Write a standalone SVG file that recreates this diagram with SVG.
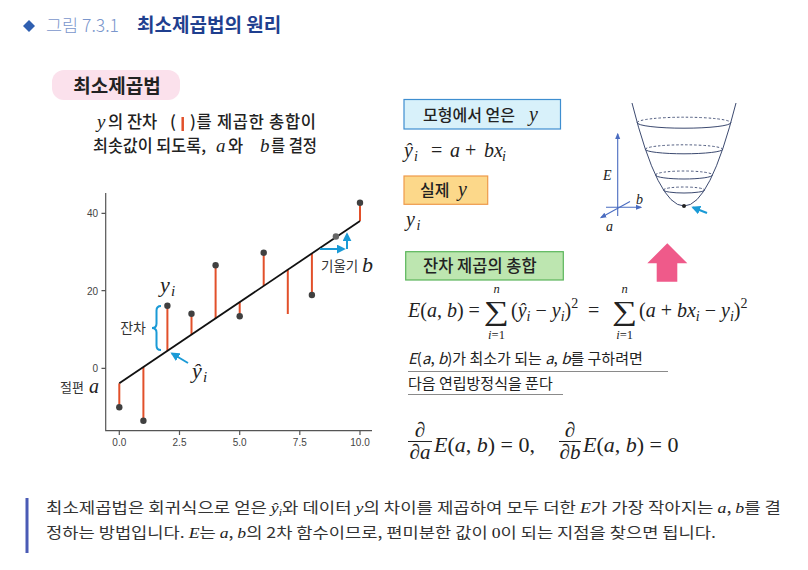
<svg xmlns="http://www.w3.org/2000/svg" width="808" height="570" viewBox="0 0 808 570">
<defs>
<style>
.kr{font-family:"Noto Sans CJK KR","Noto Sans",sans-serif;fill:#222}
.md{font-weight:500}
.m{font-family:"Liberation Serif","DejaVu Serif",serif;fill:#222}
.i{font-style:italic}
.tick{font-family:"Liberation Sans","DejaVu Sans",sans-serif;font-size:10px;fill:#444}
.axis{stroke:#555;stroke-width:1.2;fill:none}
.res{stroke:#e2502a;stroke-width:2}
.dot{fill:#404040}
.blue{stroke:#1a9ad6;stroke-width:2;fill:none}
.ax3{stroke:#4a6cc0;stroke-width:1.1;fill:none}
.bowl{stroke:#3c4a70;stroke-width:1;fill:none}
.dash{stroke:#3c4a70;stroke-width:0.9;fill:none;stroke-dasharray:2.5 2}
.ul{stroke:#8a8a8a;stroke-width:1}
</style>
<marker id="ab" viewBox="0 0 10 10" refX="8" refY="5" markerWidth="4.5" markerHeight="4.5" orient="auto"><path d="M0,0 L10,5 L0,10 z" fill="#1a9ad6"/></marker>
<marker id="ax" viewBox="0 0 10 10" refX="8" refY="5" markerWidth="6" markerHeight="6" orient="auto"><path d="M0,1 L10,5 L0,9 z" fill="#4a6cc0"/></marker>
</defs>
<rect width="808" height="570" fill="#fff"/>

<g id="title">
<path d="M29,20 L35,26 L29,32 L23,26 z" fill="#2f5fb0"/>
<text class="kr" x="46" y="32" font-size="17.5" style="fill:#7a96cc;font-weight:300">그림 7.3.1</text>
<text class="kr" x="137" y="32" font-size="19" font-weight="700" style="fill:#1f3f8f">최소제곱법의 원리</text>
</g>

<g id="pill">
<rect x="52" y="70" width="128" height="30" rx="12" fill="#fbe1ec"/>
<text class="kr" x="117" y="93" font-size="19" font-weight="700" text-anchor="middle">최소제곱법</text>
</g>

<g id="caption">
<text class="m i" x="97" y="128" font-size="19">y</text>
<text class="kr md" x="108" y="128" font-size="16.5">의 잔차</text>
<text class="kr md" x="170" y="128" font-size="16.5">(</text>
<line x1="182.7" y1="117" x2="182.7" y2="131" stroke="#e2502a" stroke-width="2.5"/>
<text class="kr md" x="190" y="128" font-size="16.5" textLength="126" lengthAdjust="spacing">)를 제곱한 총합이</text>
<text class="kr md" x="93" y="152" font-size="16.5" textLength="113" lengthAdjust="spacingAndGlyphs">최솟값이 되도록,</text>
<text class="m i" x="216" y="152" font-size="19">a</text>
<text class="kr md" x="228" y="152" font-size="16.5">와</text>
<text class="m i" x="260" y="152" font-size="19">b</text>
<text class="kr md" x="271" y="152" font-size="16.5" textLength="46" lengthAdjust="spacingAndGlyphs">를 결정</text>
</g>

<g id="chart">
<path class="axis" d="M105.7,193 V430.7 H372"/>
<path class="axis" d="M101.5,213.3 H105.7 M101.5,290.7 H105.7 M101.5,368.3 H105.7 M119.3,430.7 V435 M179.5,430.7 V435 M239.7,430.7 V435 M299.8,430.7 V435 M360,430.7 V435"/>
<text class="tick" x="98" y="217" text-anchor="end">40</text>
<text class="tick" x="98" y="294.5" text-anchor="end">20</text>
<text class="tick" x="98" y="371.5" text-anchor="end">0</text>
<text class="tick" x="119.3" y="446" text-anchor="middle">0.0</text>
<text class="tick" x="179.5" y="446" text-anchor="middle">2.5</text>
<text class="tick" x="239.7" y="446" text-anchor="middle">5.0</text>
<text class="tick" x="299.8" y="446" text-anchor="middle">7.5</text>
<text class="tick" x="360" y="446" text-anchor="middle">10.0</text>
<g id="residuals">
<line class="res" x1="119.3" y1="383.3" x2="119.3" y2="407.3"/>
<line class="res" x1="143.4" y1="367.1" x2="143.4" y2="420.7"/>
<line class="res" x1="167.4" y1="350.8" x2="167.4" y2="305.7"/>
<line class="res" x1="191.5" y1="334.6" x2="191.5" y2="313.7"/>
<line class="res" x1="215.6" y1="318.4" x2="215.6" y2="265.3"/>
<line class="res" x1="239.7" y1="302.2" x2="239.7" y2="316.3"/>
<line class="res" x1="263.7" y1="285.9" x2="263.7" y2="252.7"/>
<line class="res" x1="287.8" y1="269.7" x2="287.8" y2="314"/>
<line class="res" x1="311.9" y1="253.5" x2="311.9" y2="295"/>
<line class="res" x1="360" y1="221" x2="360" y2="202.7"/>
</g>
<line x1="119.3" y1="383.3" x2="360" y2="221" stroke="#111" stroke-width="1.8"/>
<g id="points">
<circle class="dot" cx="119.3" cy="407.3" r="3.2"/>
<circle class="dot" cx="143.4" cy="420.7" r="3.2"/>
<circle class="dot" cx="167.4" cy="305.7" r="3.2"/>
<circle class="dot" cx="191.5" cy="313.7" r="3.2"/>
<circle class="dot" cx="215.6" cy="265.3" r="3.2"/>
<circle class="dot" cx="239.7" cy="316.3" r="3.2"/>
<circle class="dot" cx="263.7" cy="252.7" r="3.2"/>
<circle class="dot" cx="311.9" cy="295" r="3.2"/>
<circle cx="335.9" cy="236.5" r="3.2" fill="#666"/>
<circle class="dot" cx="360" cy="202.7" r="3.2"/>
</g>
<path class="blue" stroke-width="1.4" d="M161,306 q-4.5,0 -4.5,4.5 v13 q0,4.5 -4.5,4.5 q4.5,0 4.5,4.5 v13 q0,4.5 4.5,4.5"/>
<text class="kr" x="146" y="333" font-size="14" text-anchor="end" style="fill:#333">잔차</text>
<text class="m i" x="160" y="292" font-size="22">y</text>
<text class="m i" x="171" y="296" font-size="15">i</text>
<text class="m i" x="192" y="378" font-size="22">ŷ</text>
<text class="m i" x="203" y="382" font-size="15">i</text>
<text class="kr" x="60" y="392" font-size="13" style="fill:#333">절편</text>
<text class="m i" x="89" y="393" font-size="20">a</text>
<text class="kr" x="321" y="270.5" font-size="13.5" style="fill:#333">기울기</text>
<text class="m i" x="362" y="272" font-size="22">b</text>
</g>

<g id="box-model">
<rect x="404" y="99.5" width="156.5" height="29.5" fill="#d8f1fa" stroke="#3e8ed0" stroke-width="1.2"/>
<text class="kr md" x="423" y="120.5" font-size="16">모형에서 얻은</text>
<text class="m i" x="529" y="120.5" font-size="20">y</text>
</g>
<g id="formula-model">
<text class="m" font-size="20" y="157"><tspan x="404" class="i">ŷ</tspan><tspan x="414" y="161" font-size="14" class="i">i</tspan><tspan x="431" y="157">=</tspan><tspan x="450" class="i">a</tspan><tspan x="465">+</tspan><tspan x="484" class="i">bx</tspan><tspan x="502" y="161" font-size="14" class="i">i</tspan></text>
</g>

<g id="box-actual">
<rect x="404" y="176" width="83.7" height="28.3" fill="#fcd88a" stroke="#ee9a4a" stroke-width="1.2"/>
<text class="kr md" x="420" y="195.5" font-size="16">실제</text>
<text class="m i" x="458" y="195.5" font-size="20">y</text>
</g>
<g id="formula-actual">
<text class="m i" x="406" y="226" font-size="20">y</text>
<text class="m i" x="416.5" y="230" font-size="14">i</text>
</g>

<g id="box-sum">
<rect x="405.7" y="251.7" width="157.6" height="28.3" fill="#bde6b0" stroke="#5ab55a" stroke-width="1.2"/>
<text class="kr md" x="423" y="271.5" font-size="16.5">잔차 제곱의 총합</text>
</g>
<g id="formula-sum">
<text class="m" font-size="20" y="317"><tspan x="408" class="i">E</tspan>(<tspan class="i">a</tspan>, <tspan class="i">b</tspan>) =</text>
<text class="m" font-size="27" text-anchor="middle" transform="translate(496.5,320) scale(1.3,1)">∑</text>
<text class="m i" x="496.5" y="293" font-size="12.5" text-anchor="middle">n</text>
<text class="m" x="496.5" y="339" font-size="12.5" text-anchor="middle"><tspan class="i">i</tspan>=1</text>
<text class="m" font-size="20" y="317"><tspan x="511">(</tspan><tspan class="i">ŷ</tspan><tspan class="i" font-size="14" dy="4">i</tspan><tspan dy="-4"> − </tspan><tspan class="i">y</tspan><tspan class="i" font-size="14" dy="4">i</tspan><tspan dy="-4">)</tspan><tspan font-size="14" dy="-9">2</tspan><tspan x="588" y="317">=</tspan></text>
<text class="m" font-size="27" text-anchor="middle" transform="translate(624.7,320) scale(1.3,1)">∑</text>
<text class="m i" x="624.7" y="293" font-size="12.5" text-anchor="middle">n</text>
<text class="m" x="624.7" y="339" font-size="12.5" text-anchor="middle"><tspan class="i">i</tspan>=1</text>
<text class="m" font-size="20" y="317"><tspan x="639">(</tspan><tspan class="i">a</tspan> + <tspan class="i">bx</tspan><tspan class="i" font-size="14" dy="4">i</tspan><tspan dy="-4"> − </tspan><tspan class="i">y</tspan><tspan class="i" font-size="14" dy="4">i</tspan><tspan dy="-4">)</tspan><tspan font-size="14" dy="-9">2</tspan></text>
</g>

<g id="condition">
<text class="kr" x="408" y="364" font-size="15"><tspan font-style="italic">E</tspan>(<tspan font-style="italic">a</tspan>, <tspan font-style="italic">b</tspan>)가 최소가 되는 <tspan font-style="italic">a</tspan>, <tspan font-style="italic">b</tspan>를 구하려면</text>
<line class="ul" x1="408" y1="371.5" x2="668" y2="371.5"/>
<text class="kr" x="408" y="389" font-size="15">다음 연립방정식을 푼다</text>
<line class="ul" x1="408" y1="394.5" x2="563" y2="394.5"/>
</g>

<g id="formula-partial">
<text class="m" x="420" y="437" font-size="21" text-anchor="middle">∂</text>
<line x1="408" y1="441.5" x2="432" y2="441.5" stroke="#222" stroke-width="1"/>
<text class="m" x="420" y="459" font-size="21" text-anchor="middle">∂<tspan class="i">a</tspan></text>
<text class="m" font-size="22" y="452"><tspan x="434" class="i">E</tspan>(<tspan class="i">a</tspan>, <tspan class="i">b</tspan>) = 0,</text>
<text class="m" x="570" y="437" font-size="21" text-anchor="middle">∂</text>
<line x1="559" y1="441.5" x2="581" y2="441.5" stroke="#222" stroke-width="1"/>
<text class="m" x="570" y="459" font-size="21" text-anchor="middle">∂<tspan class="i">b</tspan></text>
<text class="m" font-size="22" y="452"><tspan x="583" class="i">E</tspan>(<tspan class="i">a</tspan>, <tspan class="i">b</tspan>) = 0</text>
</g>

<g id="bowl">
<path class="bowl" d="M632,103 Q684,309 736,103"/>
<path class="dash" d="M637.2,122.7 A46.8,5.5 0 0 1 730.8,122.7 M645.4,149.3 A38.6,4.5 0 0 1 722.6,149.3 M655.5,175 A28.5,4 0 0 1 712.5,175 M663.5,190 A20.5,3 0 0 1 704.5,190"/>
<path class="bowl" d="M637.2,122.7 A46.8,5.5 0 0 0 730.8,122.7 M645.4,149.3 A38.6,4.5 0 0 0 722.6,149.3 M655.5,175 A28.5,4 0 0 0 712.5,175 M663.5,190 A20.5,3 0 0 0 704.5,190"/>
<circle cx="684" cy="206" r="2" fill="#222"/>
</g>

<g id="axes3d">
<line class="ax3" x1="617.7" y1="216" x2="617.7" y2="134" marker-end="url(#ax)"/>
<line class="ax3" x1="606" y1="207.3" x2="641" y2="207.3" marker-end="url(#ax)"/>
<line class="ax3" x1="630" y1="201.5" x2="601" y2="217.5" marker-end="url(#ax)"/>
<text class="m i" x="603" y="180" font-size="14">E</text>
<text class="m i" x="636" y="204" font-size="14">b</text>
<text class="m i" x="606" y="231" font-size="14">a</text>
</g>

<g id="connectors">
<line class="blue" x1="188" y1="363" x2="172" y2="353.5" marker-end="url(#ab)"/>
<path class="blue" d="M320,249 H344" marker-end="url(#ab)"/>
<path class="blue" d="M347,249 V234" marker-end="url(#ab)"/>
<line class="blue" x1="707" y1="213" x2="693" y2="207.5" marker-end="url(#ab)"/>
<polygon points="667.3,243.3 687.3,263.3 677.3,263.3 677.3,281.7 656.7,281.7 656.7,263.3 647.3,263.3" fill="#ef5a8a"/>
</g>

<g id="note">
<rect x="25.5" y="498" width="3" height="55" fill="#4a5bb5"/>
<text class="kr" x="46" y="513" font-size="15" textLength="735" lengthAdjust="spacingAndGlyphs" style="fill:#333">최소제곱법은 회귀식으로 얻은 <tspan class="m i">ŷ</tspan><tspan class="m i" font-size="10" dy="3">i</tspan><tspan dy="-3">와 데이터 </tspan><tspan class="m i">y</tspan>의 차이를 제곱하여 모두 더한 <tspan class="m i">E</tspan>가 가장 작아지는 <tspan class="m i">a</tspan>, <tspan class="m i">b</tspan>를 결</text>
<text class="kr" x="46" y="538" font-size="15" textLength="670" lengthAdjust="spacingAndGlyphs" style="fill:#333">정하는 방법입니다. <tspan class="m i">E</tspan>는 <tspan class="m i">a</tspan>, <tspan class="m i">b</tspan>의 2차 함수이므로, 편미분한 값이 <tspan class="m">0</tspan>이 되는 지점을 찾으면 됩니다.</text>
</g>
</svg>
